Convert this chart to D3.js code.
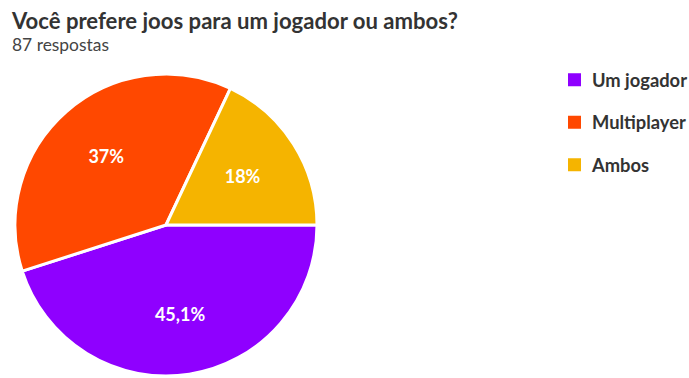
<!DOCTYPE html>
<html>
<head>
<meta charset="utf-8">
<script src="https://cdn.jsdelivr.net/npm/d3@7"></script>
<style>
  html, body { margin: 0; padding: 0; background: #fff; }
  svg { display: block; font-family: Lato, "Open Sans", sans-serif; }
</style>
</head>
<body>
<svg id="chart" width="689" height="378"></svg>
<script>
// Survey answers (share of responses, %)
const categories = ["Um jogador", "Multiplayer", "Ambos"];
const values = [45.1, 37, 18];
const valueLabels = ["45,1%", "37%", "18%"];
const colors = ["#8f00ff", "#ff4800", "#f5b400"];
const title = "Você prefere joos para um jogador ou ambos?";
const subtitle = "87 respostas";

const svg = d3.select("#chart");

// Fit a text element to a given width by adjusting its font size
function fitWidth(sel, width) {
  const node = sel.node();
  const fs = parseFloat(sel.attr("font-size"));
  const w = node.getComputedTextLength();
  sel.attr("font-size", (fs * width / w).toFixed(2));
}

// Header
const t = svg.append("text")
  .attr("x", 12).attr("y", 29)
  .attr("font-size", 20).attr("font-weight", 700)
  .attr("fill", "#333")
  .text(title);
fitWidth(t, 446);

const st = svg.append("text")
  .attr("x", 12).attr("y", 51)
  .attr("font-size", 15)
  .attr("fill", "#444")
  .text(subtitle);
fitWidth(st, 97);

// Pie
const cx = 166, cy = 225, radius = 151;
const pie = d3.pie().sort(null)
  .startAngle(Math.PI / 2)
  .endAngle(Math.PI / 2 + 2 * Math.PI);
const arcs = pie(values);
const arc = d3.arc().innerRadius(0).outerRadius(radius);
const labelArc = d3.arc().innerRadius(radius * 0.6).outerRadius(radius * 0.6);

const g = svg.append("g").attr("transform", `translate(${cx},${cy})`);
g.selectAll("path.slice")
  .data(arcs)
  .join("path")
  .attr("class", "slice")
  .attr("d", arc)
  .attr("fill", (d, i) => colors[i])
  .attr("stroke", "#fff")
  .attr("stroke-width", 3)
  .attr("stroke-linejoin", "round");

g.selectAll("text.val")
  .data(arcs)
  .join("text")
  .attr("class", "val")
  .attr("transform", d => `translate(${labelArc.centroid(d)})`)
  .attr("text-anchor", "middle")
  .attr("dy", "0.35em")
  .attr("font-size", 18)
  .attr("font-weight", 700)
  .attr("fill", "#fff")
  .text((d, i) => valueLabels[i]);

// Legend
const legendY = d3.scaleBand().domain(categories).range([59, 186.5]).paddingInner(0);
const lg = svg.append("g");
const items = lg.selectAll("g.item")
  .data(categories)
  .join("g")
  .attr("class", "item")
  .attr("transform", d => `translate(568,${legendY(d) + legendY.bandwidth() / 2})`);
items.append("rect")
  .attr("x", 0).attr("y", -7)
  .attr("width", 13).attr("height", 13)
  .attr("fill", (d, i) => colors[i]);
const legendText = items.append("text")
  .attr("x", 24).attr("y", 0)
  .attr("dy", "0.36em")
  .attr("font-size", 16)
  .attr("font-weight", 700)
  .attr("fill", "#333")
  .text(d => d);
// size the legend labels so the first one spans the same width as before
const firstW = legendText.nodes()[0].getComputedTextLength();
legendText.attr("font-size", (16 * 95 / firstW).toFixed(2));
</script>
</body>
</html>
